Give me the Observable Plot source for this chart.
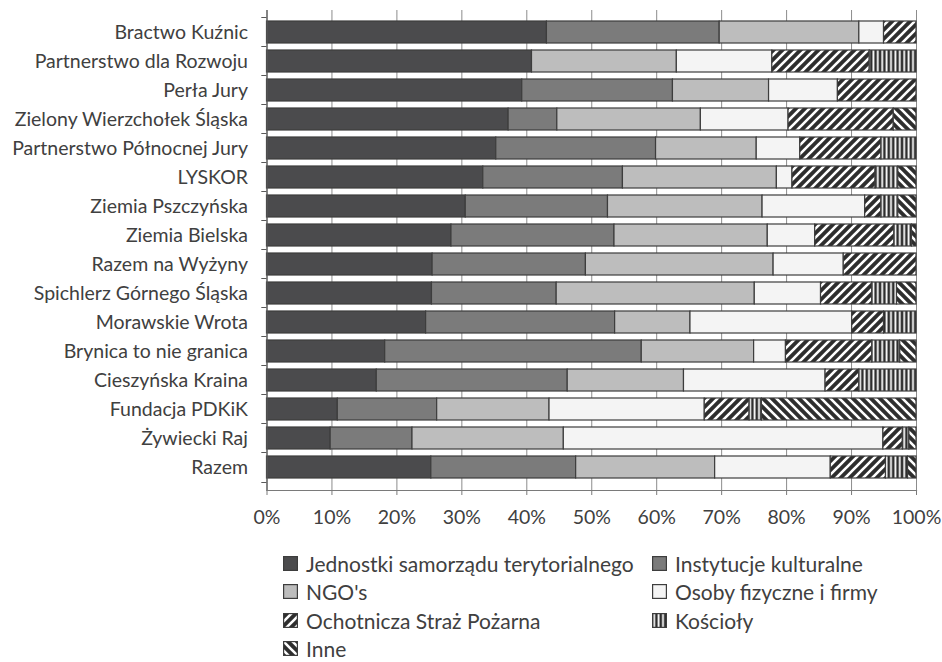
<!DOCTYPE html>
<html>
<head>
<meta charset="utf-8">
<script src="https://cdn.jsdelivr.net/npm/d3@7"></script>
<script src="https://cdn.jsdelivr.net/npm/@observablehq/plot@0.6"></script>
<style>
  html, body { margin: 0; padding: 0; background: #ffffff; }
  body { width: 942px; height: 662px; overflow: hidden; font-family: Lato, "Open Sans", sans-serif; color: #404040; }
  #legend { display: grid; grid-template-columns: 369px auto; margin-left: 283px; padding-top: 4px; font-size: 21px; }
  #legend .item { height: 28.5px; display: flex; align-items: center; white-space: nowrap; }
  #legend .item span { line-height: 1; }
  #legend svg { margin-right: 8px; flex: none; }
</style>
</head>
<body>
<div id="chart"></div>
<div id="legend"></div>
<script>
const groups = [
  "Bractwo Kuźnic", "Partnerstwo dla Rozwoju", "Perła Jury", "Zielony Wierzchołek Śląska",
  "Partnerstwo Północnej Jury", "LYSKOR", "Ziemia Pszczyńska", "Ziemia Bielska",
  "Razem na Wyżyny", "Spichlerz Górnego Śląska", "Morawskie Wrota", "Brynica to nie granica",
  "Cieszyńska Kraina", "Fundacja PDKiK", "Żywiecki Raj", "Razem"
];
const seriesNames = [
  "Jednostki samorządu terytorialnego", "Instytucje kulturalne", "NGO's",
  "Osoby fizyczne i firmy", "Ochotnicza Straż Pożarna", "Kościoły", "Inne"
];
const jst      = [43.1, 40.8, 39.3, 37.2, 35.3, 33.3, 30.6, 28.4, 25.5, 25.4, 24.5, 18.2, 16.9, 10.9,  9.8, 25.3];
const inst     = [26.6,  0.0, 23.2,  7.5, 24.6, 21.5, 21.9, 25.1, 23.6, 19.2, 29.1, 39.5, 29.4, 15.3, 12.6, 22.3];
const ngo      = [21.5, 22.3, 14.8, 22.1, 15.5, 23.7, 23.8, 23.6, 28.9, 30.5, 11.6, 17.3, 17.9, 17.3, 23.3, 21.4];
const osoby    = [ 3.8, 14.7, 10.6, 13.5,  6.7,  2.4, 15.8,  7.3, 10.8, 10.2, 24.9,  4.9, 21.8, 23.9, 49.2, 17.8];
const osp      = [ 5.0, 15.0, 12.1, 16.2, 12.5, 12.8,  2.5, 12.2, 11.2,  7.9,  4.9, 13.3,  5.2,  6.9,  3.0,  8.5];
const koscioly = [ 0.0,  7.2,  0.0,  0.0,  5.4,  3.5,  2.6,  2.7,  0.0,  3.8,  5.0,  4.3,  8.8,  1.9,  1.0,  3.4];
const inne     = [ 0.0,  0.0,  0.0,  3.5,  0.0,  2.8,  2.8,  0.7,  0.0,  3.0,  0.0,  2.5,  0.0, 23.8,  1.1,  1.3];
const xTicks = [0, 0.1, 0.2, 0.3, 0.4, 0.5, 0.6, 0.7, 0.8, 0.9, 1];

const seriesValues = [jst, inst, ngo, osoby, osp, koscioly, inne];
const fills = ["#4b4b4d", "#7b7b7b", "#bdbdbd", "#f4f4f4", "url(#p-osp)", "url(#p-kosc)", "url(#p-inne)"];

const data = groups.flatMap((g, i) =>
  seriesNames.map((s, j) => ({group: g, series: s, value: seriesValues[j][i]}))
).filter(d => d.value > 0);

const axisColor = "#595959";

const chart = Plot.plot({
  width: 942,
  height: 545,
  marginLeft: 266.5,
  marginRight: 26,
  marginTop: 10,
  marginBottom: 55,
  style: {fontFamily: "Lato, 'Open Sans', sans-serif", fontSize: "19.5px", color: "#404040", background: "#ffffff"},
  x: {domain: [0, 1], label: null},
  y: {domain: groups, paddingInner: 0.233, paddingOuter: 0.117, label: null},
  color: {domain: seriesNames, range: fills},
  marks: [
    Plot.ruleX(xTicks, {stroke: "#8c8c8c", strokeWidth: 1}),
    Plot.barX(data, Plot.stackX({
      x: "value", y: "group", fill: "series", offset: "normalize", order: null,
      stroke: "#3d3d3d", strokeWidth: 1.2
    })),
    Plot.frame({anchor: "left", stroke: axisColor, strokeWidth: 1.2}),
    Plot.frame({anchor: "bottom", stroke: "#7a7a7a", strokeWidth: 1.2}),
    Plot.ruleY(groups, {y: d => d, dy: -15, x1: -0.008, x2: 0, stroke: axisColor}),
    Plot.ruleY([groups[groups.length - 1]], {y: d => d, dy: 15, x1: -0.008, x2: 0, stroke: axisColor}),
    Plot.axisX({ticks: xTicks, tickFormat: d => Math.round(d * 100) + "%", tickSize: 5, tickPadding: 15, label: null, stroke: "#7a7a7a"}),
    Plot.axisY({tickSize: 0, tickPadding: 19, label: null})
  ]
});

// patterns
const defs = d3.select(chart).insert("defs", ":first-child");
const pOsp = defs.append("pattern").attr("id", "p-osp").attr("patternUnits", "userSpaceOnUse").attr("width", 9).attr("height", 9);
pOsp.append("rect").attr("width", 9).attr("height", 9).attr("fill", "#2e2e2e");
pOsp.append("path").attr("d", "M-2,2 L2,-2 M0,9 L9,0 M7,11 L11,7").attr("stroke", "#ffffff").attr("stroke-width", 2.6);
const pInne = defs.append("pattern").attr("id", "p-inne").attr("patternUnits", "userSpaceOnUse").attr("width", 9).attr("height", 9);
pInne.append("rect").attr("width", 9).attr("height", 9).attr("fill", "#2e2e2e");
pInne.append("path").attr("d", "M0,0 L9,9 M-2,7 L2,11 M7,-2 L11,2").attr("stroke", "#ffffff").attr("stroke-width", 2.6);
const pKosc = defs.append("pattern").attr("id", "p-kosc").attr("patternUnits", "userSpaceOnUse").attr("width", 4.4).attr("height", 4);
pKosc.append("rect").attr("width", 4.4).attr("height", 4).attr("fill", "#2e2e2e");
pKosc.append("rect").attr("x", 1.3).attr("width", 1.8).attr("height", 4).attr("fill", "#ffffff");

document.getElementById("chart").appendChild(chart);

// legend
const legend = d3.select("#legend");
seriesNames.forEach((s, j) => {
  const item = legend.append("div").attr("class", "item");
  const sw = item.append("svg").attr("width", 15).attr("height", 15);
  sw.append("rect").attr("x", 0.6).attr("y", 0.6).attr("width", 13.8).attr("height", 13.8)
    .attr("fill", fills[j]).attr("stroke", "#3d3d3d").attr("stroke-width", 1.2);
  item.append("span").text(s);
});
</script>
</body>
</html>
